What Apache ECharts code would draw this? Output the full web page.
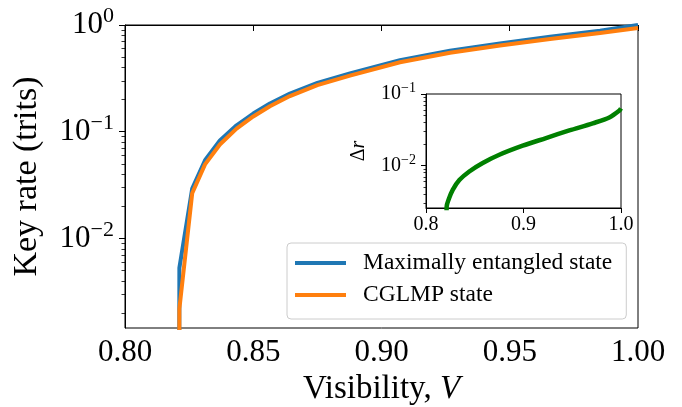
<!DOCTYPE html>
<html>
<head>
<meta charset="utf-8">
<script src="https://cdn.jsdelivr.net/npm/echarts@6/dist/echarts.min.js"></script>
<style>
html, body { margin: 0; padding: 0; background: #fff; }
#main { width: 682px; height: 407px; }
</style>
</head>
<body>
<div id="main"></div>
<script>
// key rate vs visibility
const visibility = [0.8210, 0.8212, 0.8262, 0.8312, 0.8370, 0.8435, 0.8500, 0.8565, 0.8643, 0.8750, 0.8877, 0.9072, 0.9267, 0.9462, 0.9657, 0.9852, 1.0000];
const maxEntangled = [1e-6, 0.0053, 0.0293, 0.054, 0.083, 0.115, 0.148, 0.184, 0.228, 0.287, 0.352, 0.469, 0.574, 0.673, 0.776, 0.885, 1.0];
const cglmp = [1e-6, 0.0022, 0.0265, 0.0495, 0.076, 0.107, 0.139, 0.1735, 0.216, 0.273, 0.3355, 0.448, 0.549, 0.642, 0.739, 0.840, 0.937];

// inset: difference between the two rates
const insetVisibility = [0.8210, 0.8212, 0.8233, 0.8274, 0.8342, 0.8444, 0.8582, 0.8752, 0.8992, 0.9231, 0.9470, 0.9710, 0.9880, 0.9983, 1.0000];
const deltaR = [0.0015, 0.0027, 0.0034, 0.0046, 0.0063, 0.0083, 0.0109, 0.0142, 0.0190, 0.0243, 0.0310, 0.0390, 0.0470, 0.0586, 0.0630];

const xTicks = [0.80, 0.85, 0.90, 0.95, 1.00];
const insetXTicks = [0.8, 0.9, 1.0];
const mainDecades = [-2, -1, 0];
const insetDecades = [-2, -1];
const seriesNames = ['Maximally entangled state', 'CGLMP state'];

const serif = 'Liberation Serif';
const mainYMin = 0.00145, mainYMax = 1;
const insetYMin = 0.00257, insetYMax = 0.1;

function minorLogs(lo, hi) {
  const out = [];
  for (let k = Math.floor(lo); k < hi; k++) {
    for (let m = 2; m <= 9; m++) {
      const v = k + Math.log10(m);
      if (v >= lo && v <= hi) out.push(v);
    }
  }
  return out;
}

function powLabel(v) {
  const e = Math.round(v);
  return '{b|10}{s|' + (e < 0 ? '\u2212' + (-e) : e) + '}';
}

function pair(a, b) {
  return a.map((x, i) => [x, b[i]]);
}

const chart = echarts.init(document.getElementById('main'));

const option = {
  animation: false,
  backgroundColor: '#fff',
  grid: [
    {left: 125, top: 25, width: 513, height: 303, show: true, borderColor: '#000', borderWidth: 1,
      backgroundColor: 'transparent', outerBoundsMode: 'none'},
    {left: 426, top: 94, width: 195, height: 114, show: true, borderColor: '#000', borderWidth: 1,
      backgroundColor: '#fff', outerBoundsMode: 'none'}
  ],
  legend: {
    orient: 'vertical',
    left: 287,
    top: 243,
    data: seriesNames,
    icon: 'rect',
    itemWidth: 51,
    itemHeight: 4,
    itemGap: 8,
    padding: [8, 14, 12, 8],
    borderColor: '#cccccc',
    borderWidth: 1,
    borderRadius: 4,
    backgroundColor: 'rgba(255,255,255,0.8)',
    textStyle: {fontFamily: serif, fontSize: 23.5, lineHeight: 23, color: '#000', padding: [0, 0, 0, 12]}
  },
  xAxis: [
    {
      type: 'value', gridIndex: 0, min: 0.8, max: 1.0,
      axisLine: {lineStyle: {color: '#000', width: 1}},
      axisTick: {customValues: xTicks, length: 6, lineStyle: {color: '#000'}},
      axisLabel: {customValues: xTicks, margin: 9, formatter: v => v.toFixed(2),
        fontFamily: serif, fontSize: 31, color: '#000'},
      splitLine: {show: false},
      name: '{n|Visibility, }{i|V}',
      nameLocation: 'middle',
      nameGap: 41,
      nameTextStyle: {rich: {
        n: {fontFamily: serif, fontSize: 33, color: '#000'},
        i: {fontFamily: serif, fontSize: 33, fontStyle: 'italic', color: '#000'}
      }}
    },
    {
      type: 'value', gridIndex: 1, min: 0.8, max: 1.0,
      axisLine: {lineStyle: {color: '#000', width: 1}},
      axisTick: {customValues: insetXTicks, length: 5, lineStyle: {color: '#000'}},
      axisLabel: {customValues: insetXTicks, margin: 7, formatter: v => v.toFixed(1),
        fontFamily: serif, fontSize: 20, color: '#000'},
      splitLine: {show: false}
    }
  ],
  yAxis: [
    // main data axis
    {
      type: 'log', gridIndex: 0, position: 'left', min: mainYMin, max: mainYMax,
      axisLine: {show: true, lineStyle: {color: '#000', width: 1}},
      axisTick: {show: false}, axisLabel: {show: false}, splitLine: {show: false}
    },
    // main major ticks and labels
    {
      type: 'value', gridIndex: 0, position: 'left', min: Math.log10(mainYMin), max: Math.log10(mainYMax),
      axisLine: {show: false},
      axisTick: {show: true, customValues: mainDecades, length: 6, lineStyle: {color: '#000'}},
      axisLabel: {customValues: mainDecades, margin: 11, formatter: powLabel,
        rich: {
          b: {fontFamily: serif, fontSize: 31, color: '#000'},
          s: {fontFamily: serif, fontSize: 22, color: '#000', padding: [0, 0, 17, 0]}
        }},
      splitLine: {show: false},
      name: 'Key rate (trits)',
      nameLocation: 'middle',
      nameRotate: 90,
      nameGap: 81,
      nameTextStyle: {fontFamily: serif, fontSize: 34, color: '#000'}
    },
    // main minor ticks
    {
      type: 'value', gridIndex: 0, position: 'left', min: Math.log10(mainYMin), max: Math.log10(mainYMax),
      axisLine: {show: false},
      axisTick: {show: true, customValues: minorLogs(Math.log10(mainYMin), Math.log10(mainYMax)), length: 3.5,
        lineStyle: {color: '#000', width: 0.8}},
      axisLabel: {show: false}, splitLine: {show: false}
    },
    // inset data axis
    {
      type: 'log', gridIndex: 1, position: 'left', min: insetYMin, max: insetYMax,
      axisLine: {show: true, lineStyle: {color: '#000', width: 1}},
      axisTick: {show: false}, axisLabel: {show: false}, splitLine: {show: false}
    },
    // inset major ticks and labels
    {
      type: 'value', gridIndex: 1, position: 'left', min: Math.log10(insetYMin), max: Math.log10(insetYMax),
      axisLine: {show: false},
      axisTick: {show: true, customValues: insetDecades, length: 5, lineStyle: {color: '#000'}},
      axisLabel: {customValues: insetDecades, margin: 10, formatter: powLabel,
        rich: {
          b: {fontFamily: serif, fontSize: 20, color: '#000'},
          s: {fontFamily: serif, fontSize: 14, color: '#000', padding: [0, 0, 11, 0]}
        }},
      splitLine: {show: false},
      name: '{n|\u0394}{i|r}',
      nameLocation: 'middle',
      nameRotate: 90,
      nameGap: 57,
      nameTextStyle: {rich: {
        n: {fontFamily: serif, fontSize: 20, color: '#000'},
        i: {fontFamily: serif, fontSize: 20, fontStyle: 'italic', color: '#000'}
      }}
    },
    // inset minor ticks
    {
      type: 'value', gridIndex: 1, position: 'left', min: Math.log10(insetYMin), max: Math.log10(insetYMax),
      axisLine: {show: false},
      axisTick: {show: true, customValues: minorLogs(Math.log10(insetYMin), Math.log10(insetYMax)), length: 2.5,
        lineStyle: {color: '#000', width: 0.8}},
      axisLabel: {show: false}, splitLine: {show: false}
    }
  ],
  series: [
    {
      name: seriesNames[0], type: 'line', xAxisIndex: 0, yAxisIndex: 0,
      data: pair(visibility, maxEntangled),
      showSymbol: false, symbol: 'none',
      itemStyle: {color: '#1f77b4'},
      lineStyle: {color: '#1f77b4', width: 4}
    },
    {
      name: seriesNames[1], type: 'line', xAxisIndex: 0, yAxisIndex: 0,
      data: pair(visibility, cglmp),
      showSymbol: false, symbol: 'none',
      itemStyle: {color: '#ff7f0e'},
      lineStyle: {color: '#ff7f0e', width: 4}
    },
    {
      name: 'delta', type: 'line', xAxisIndex: 1, yAxisIndex: 3,
      data: pair(insetVisibility, deltaR),
      showSymbol: false, symbol: 'none',
      smooth: 0.3,
      itemStyle: {color: '#008000'},
      lineStyle: {color: '#008000', width: 4.5},
      z: 5
    }
  ]
};

chart.setOption(option);
</script>
</body>
</html>
